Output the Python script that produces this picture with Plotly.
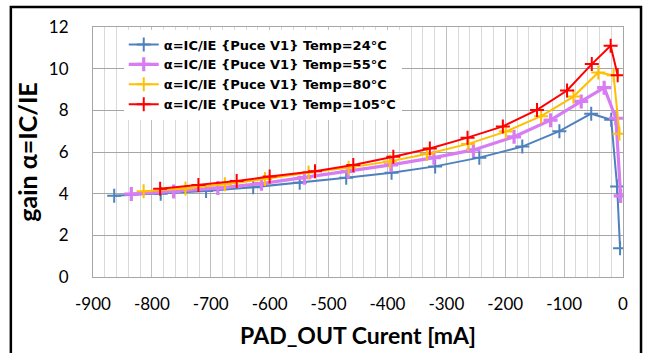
import plotly.graph_objects as go

names = ["α=IC/IE {Puce V1} Temp=24°C", "α=IC/IE {Puce V1} Temp=55°C",
         "α=IC/IE {Puce V1} Temp=80°C", "α=IC/IE {Puce V1} Temp=105°C"]

x_24 = [-864, -785, -708, -628, -549, -470, -393, -319, -244, -171, -108, -54, -20, -10, -5]
y_24 = [3.90, 4.00, 4.13, 4.31, 4.53, 4.76, 5.00, 5.31, 5.73, 6.26, 7.00, 7.84, 7.55, 4.35, 1.38]

x_55 = [-835, -763, -688, -614, -541, -467, -394, -321, -254, -185, -123, -71, -32, -12, -4]
y_55 = [3.98, 4.11, 4.27, 4.48, 4.77, 5.07, 5.38, 5.73, 6.10, 6.73, 7.53, 8.43, 9.09, 7.62, 3.89]

x_80 = [-814, -743, -676, -608, -534, -466, -396, -333, -263, -199, -139, -84, -42, -16, -6]
y_80 = [4.12, 4.25, 4.45, 4.70, 5.02, 5.25, 5.55, 5.90, 6.39, 6.98, 7.72, 8.66, 9.82, 9.68, 6.88]

x_105 = [-786, -721, -656, -600, -523, -458, -390, -328, -264, -204, -146, -95, -53, -21, -9]
y_105 = [4.24, 4.42, 4.61, 4.82, 5.08, 5.38, 5.77, 6.17, 6.69, 7.23, 8.02, 8.95, 10.22, 11.10, 9.68]

x_tickvals = [-900, -800, -700, -600, -500, -400, -300, -200, -100, 0]
x_ticktext = ["-900", "-800", "-700", "-600", "-500", "-400", "-300", "-200", "-100", "0"]

colors = ["#4F81BD", "#D77CF2", "#FFC000", "#FF0000"]
widths = [2, 3.2, 2, 2]

xs = [x_24, x_55, x_80, x_105]
ys = [y_24, y_55, y_80, y_105]

fig = go.Figure()
for n, x, y, c, w in zip(names, xs, ys, colors, widths):
    fig.add_trace(go.Scatter(
        x=x, y=y, name=n, mode="lines+markers",
        line=dict(color=c, width=w),
        marker=dict(symbol="cross-thin", size=10, line=dict(color=c, width=w)),
    ))

font = "Lato, 'Noto Sans', sans-serif"
lfont = "'DejaVu Sans', 'Noto Sans', sans-serif"
fig.update_layout(
    width=645, height=353,
    margin=dict(l=93, r=22, t=27, b=76),
    paper_bgcolor="white", plot_bgcolor="white",
    font=dict(family=font, color="black"),
    showlegend=True,
    legend=dict(
        x=0.058, y=0.99, xanchor="left", yanchor="top",
        bgcolor="white", borderwidth=0,
        font=dict(family=lfont, size=13, color="black", weight="bold"),
        tracegroupgap=0, itemwidth=30,
    ),
    xaxis=dict(
        range=[-900, 0], tickvals=x_tickvals, ticktext=x_ticktext,
        showgrid=True, gridcolor="#BFBFBF", gridwidth=1,
        minor=dict(dtick=20, tick0=0, showgrid=True, gridcolor="#D9D9D9", gridwidth=1),
        zeroline=False, showline=True, linecolor="#A6A6A6", mirror=True,
        ticks="", ticklabelstandoff=12, automargin=False,
        tickfont=dict(size=17, family=font, color="black"),
        title=dict(text="PAD_OUT Curent [mA]", standoff=14,
                   font=dict(size=23, family=font, weight="bold", color="black")),
    ),
    yaxis=dict(
        range=[0, 12], dtick=2,
        showgrid=True, gridcolor="#A6A6A6", gridwidth=1,
        zeroline=False, showline=True, linecolor="#A6A6A6", mirror=True,
        ticks="", ticklabelstandoff=20, automargin=False,
        tickfont=dict(size=17, family=font, color="black"),
        title=dict(text="gain α=IC/IE", standoff=4,
                   font=dict(size=25, family=font, weight="bold", color="black")),
    ),
)

fig.add_shape(type="rect", xref="paper", yref="paper",
              x0=-0.155, x1=1.034, y0=-0.5, y1=1.08,
              line=dict(color="black", width=2.5), fillcolor="rgba(0,0,0,0)", layer="above")

fig.write_html("out.html", config={"displayModeBar": False},
               post_script="document.body.style.margin='0px';")
